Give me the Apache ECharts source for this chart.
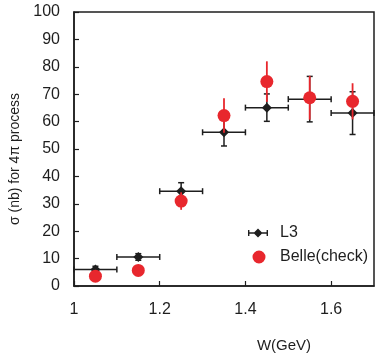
<!DOCTYPE html>
<html>
<head>
<meta charset="utf-8">
<script src="https://cdn.jsdelivr.net/npm/echarts@6/dist/echarts.min.js"></script>
<style>
  html, body { margin: 0; padding: 0; background: #fff; }
  #chart { width: 382px; height: 358px; }
</style>
</head>
<body>
<div id="chart"></div>
<script>
// W bins (GeV)
var wBins = [1.05, 1.15, 1.25, 1.35, 1.45, 1.55, 1.65];
var wHalfWidth = [0.05, 0.05, 0.05, 0.05, 0.05, 0.05, 0.05];

// L3 cross section (nb) and errors
var l3Sigma = [6.0, 10.6, 34.6, 56.1, 65.1, 68.2, 63.1];
var l3Err = [1.2, 1.2, 3.1, 5.0, 5.0, 8.3, 7.8];

// Belle check
var belleSigma = [3.6, 5.7, 31.0, 62.2, 74.6, 68.7, 67.4];
var belleErr = [0, 0, 3.2, 6.3, 7.4, 8.0, 6.6];

var BLACK = '#1e1e1e';
var RED = '#e8272d';
var FONT = 'Liberation Sans, Arial, sans-serif';

var l3Data = wBins.map(function (w, i) {
  return [w, l3Sigma[i], wHalfWidth[i], l3Err[i]];
});
var belleData = wBins.map(function (w, i) {
  return [w, belleSigma[i], belleErr[i]];
});

function renderL3 (params, api) {
  var x = api.value(0), y = api.value(1), xe = api.value(2), ye = api.value(3);
  var c = api.coord([x, y]);
  var l = api.coord([x - xe, y]);
  var r = api.coord([x + xe, y]);
  var t = api.coord([x, y + ye]);
  var b = api.coord([x, y - ye]);
  var st = { stroke: BLACK, lineWidth: 1.5 };
  var cap = 3, d = 5;
  return {
    type: 'group',
    children: [
      { type: 'line', shape: { x1: l[0], y1: c[1], x2: r[0], y2: c[1] }, style: st },
      { type: 'line', shape: { x1: l[0], y1: c[1] - cap, x2: l[0], y2: c[1] + cap }, style: st },
      { type: 'line', shape: { x1: r[0], y1: c[1] - cap, x2: r[0], y2: c[1] + cap }, style: st },
      { type: 'line', shape: { x1: c[0], y1: t[1], x2: c[0], y2: b[1] }, style: st },
      { type: 'line', shape: { x1: c[0] - cap, y1: t[1], x2: c[0] + cap, y2: t[1] }, style: st },
      { type: 'line', shape: { x1: c[0] - cap, y1: b[1], x2: c[0] + cap, y2: b[1] }, style: st },
      { type: 'polygon', shape: { points: [[c[0], c[1] - d], [c[0] + d, c[1]], [c[0], c[1] + d], [c[0] - d, c[1]]] }, style: { fill: BLACK } }
    ]
  };
}

function renderBelle (params, api) {
  var x = api.value(0), y = api.value(1), ye = api.value(2);
  var c = api.coord([x, y]);
  var t = api.coord([x, y + ye]);
  var b = api.coord([x, y - ye]);
  return {
    type: 'group',
    children: [
      { type: 'line', shape: { x1: c[0], y1: t[1], x2: c[0], y2: b[1] }, style: { stroke: RED, lineWidth: 1.8 } },
      { type: 'circle', shape: { cx: c[0], cy: c[1], r: 6.5 }, style: { fill: RED } }
    ]
  };
}

// legend icons in a 32x14 box; tiny corner specks fix the bounds
var specks = 'M0,0h0.01v0.01h-0.01z M31.99,13.99h0.01v0.01h-0.01z ';
var l3Icon = 'path://' + specks +
  'M5,4h1.4v6h-1.4z M5,6.3h20v1.4h-20z M23.6,4h1.4v6h-1.4z M15,2.5l4.5,4.5l-4.5,4.5l-4.5,-4.5z';
var belleIcon = 'path://' + specks + 'M16,0.5a6.5,6.5 0 1,0 0.001,0z';

var chart = echarts.init(document.getElementById('chart'));
chart.setOption({
  animation: false,
  backgroundColor: '#fff',
  textStyle: { fontFamily: FONT },
  grid: {
    left: 72, right: 8, top: 12, bottom: 70,
    show: true, borderColor: BLACK, borderWidth: 1.5, backgroundColor: 'transparent'
  },
  legend: {
    orient: 'vertical',
    left: 243, top: 225,
    padding: 0,
    itemWidth: 32, itemHeight: 14, itemGap: 8,
    textStyle: { fontFamily: FONT, fontSize: 16, color: BLACK },
    data: [
      { name: 'L3', icon: l3Icon },
      { name: 'Belle(check)', icon: belleIcon }
    ]
  },
  xAxis: {
    type: 'value',
    min: 1, max: 1.7, interval: 0.2,
    name: 'W(GeV)',
    nameLocation: 'middle',
    nameGap: 52,
    nameTextStyle: { fontFamily: FONT, fontSize: 15, color: BLACK, padding: [0, 0, 0, 120] },
    axisLine: { lineStyle: { color: BLACK, width: 1.5 } },
    axisTick: { inside: true, length: 5, lineStyle: { color: BLACK, width: 1.2 } },
    axisLabel: { margin: 16, fontSize: 16, color: BLACK, fontFamily: FONT, showMaxLabel: false },
    splitLine: { show: false }
  },
  yAxis: {
    type: 'value',
    min: 0, max: 100, interval: 10,
    name: 'σ (nb) for 4π process',
    nameLocation: 'middle',
    nameGap: 52,
    nameTextStyle: { fontFamily: FONT, fontSize: 14, color: BLACK, padding: [0, 20, 0, 0] },
    axisLine: { lineStyle: { color: BLACK, width: 1.5 } },
    axisTick: { inside: true, length: 5, lineStyle: { color: BLACK, width: 1.2 } },
    axisLabel: { margin: 14, fontSize: 16, color: BLACK, fontFamily: FONT },
    splitLine: { show: false }
  },
  series: [
    {
      name: 'L3',
      type: 'custom',
      renderItem: renderL3,
      itemStyle: { color: BLACK },
      encode: { x: 0, y: 1 },
      data: l3Data,
      z: 2
    },
    {
      name: 'Belle(check)',
      type: 'custom',
      renderItem: renderBelle,
      itemStyle: { color: RED },
      encode: { x: 0, y: 1 },
      data: belleData,
      z: 3
    }
  ]
});
</script>
</body>
</html>
